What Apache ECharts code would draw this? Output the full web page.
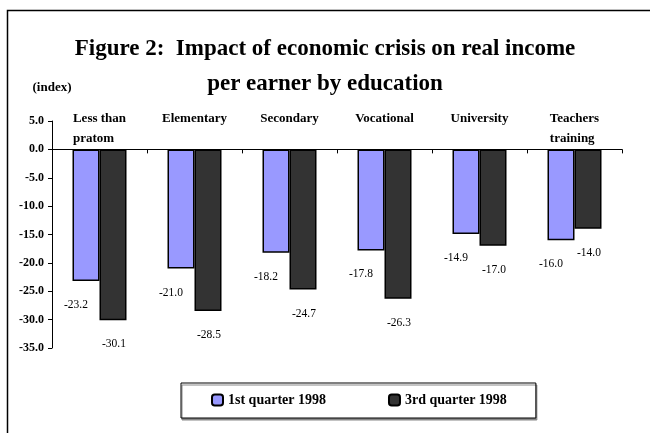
<!DOCTYPE html>
<html>
<head>
<meta charset="utf-8">
<script src="https://cdn.jsdelivr.net/npm/echarts@6/dist/echarts.min.js"></script>
<style>html,body{margin:0;padding:0;background:#fff}#c{width:650px;height:433px}</style>
</head>
<body>
<div id="c"></div>
<script>
const categories = ['Less than\npratom', 'Elementary', 'Secondary', 'Vocational', 'University', 'Teachers\ntraining'];
const seriesNames = ['1st quarter 1998', '3rd quarter 1998'];
const q1Values = [-23.2, -21.0, -18.2, -17.8, -14.9, -16.0];
const q3Values = [-30.1, -28.5, -24.7, -26.3, -17.0, -14.0];
const yTicks = { min: -35, max: 5, interval: 5 };
const titleText = 'Figure 2:  Impact of economic crisis on real income\nper earner by education';
const unitText = '(index)';

const FONT = "'Liberation Serif', 'Times New Roman', serif";
const chart = echarts.init(document.getElementById('c'), null, { renderer: 'canvas' });

const labelStyle = (dx) => ({
  show: true,
  position: 'bottom',
  distance: 18,
  offset: [dx, 0],
  formatter: p => p.value.toFixed(1),
  fontFamily: FONT,
  fontSize: 11.5,
  color: '#000'
});

chart.setOption({
  backgroundColor: '#fff',
  animation: false,
  textStyle: { fontFamily: FONT },
  title: {
    text: titleText,
    left: 'center',
    top: 27,
    textStyle: { fontFamily: FONT, fontWeight: 'bold', fontSize: 23, lineHeight: 35, color: '#000' }
  },
  graphic: [{
    type: 'rect',
    silent: true,
    shape: { x: 7.5, y: 10.5, width: 800, height: 600 },
    style: { fill: 'none', stroke: '#000', lineWidth: 1.5 }
  }],
  legend: {
    data: seriesNames,
    left: 181,
    top: 383,
    padding: [10, 29, 11, 30],
    itemGap: 62,
    itemWidth: 11,
    itemHeight: 11,
    borderColor: '#000',
    borderWidth: 1,
    shadowColor: '#888',
    shadowOffsetX: 1,
    shadowOffsetY: 2,
    shadowBlur: 0,
    backgroundColor: '#fff',
    textStyle: { fontFamily: FONT, fontWeight: 'bold', fontSize: 14, color: '#000' }
  },
  grid: { left: 52, right: 28, top: 121, bottom: 85, containLabel: false },
  xAxis: {
    type: 'category',
    data: categories,
    boundaryGap: true,
    axisLine: { onZero: true, lineStyle: { color: '#000', width: 1 } },
    axisTick: { show: true, length: 4, inside: false, lineStyle: { color: '#000' } },
    axisLabel: {
      inside: true,
      margin: 239,
      verticalAlign: 'top',
      align: 'center',
      interval: 0,
      formatter: v => v.split('\n').map(s => '{l|' + s + '}').join('\n'),
      rich: {
        l: { align: 'left', fontFamily: FONT, fontWeight: 'bold', fontSize: 13, lineHeight: 20, color: '#000' }
      }
    },
    splitLine: { show: false }
  },
  yAxis: {
    type: 'value',
    min: yTicks.min,
    max: yTicks.max,
    interval: yTicks.interval,
    name: unitText,
    nameLocation: 'end',
    nameGap: 27,
    nameTextStyle: { fontFamily: FONT, fontWeight: 'bold', fontSize: 13, color: '#000', align: 'center' },
    axisLine: { show: true, lineStyle: { color: '#000', width: 1 } },
    axisTick: { show: true, length: 4, lineStyle: { color: '#000' } },
    axisLabel: {
      margin: 8,
      formatter: v => v.toFixed(1),
      fontFamily: FONT,
      fontWeight: 'bold',
      fontSize: 12,
      color: '#000'
    },
    splitLine: { show: false }
  },
  series: [
    {
      name: seriesNames[0],
      type: 'bar',
      data: q1Values,
      barWidth: 27,
      barGap: '0%',
      itemStyle: { color: '#9999FF', borderColor: '#000', borderWidth: 1.5 },
      label: labelStyle(-10)
    },
    {
      name: seriesNames[1],
      type: 'bar',
      data: q3Values,
      barWidth: 27,
      barGap: '0%',
      itemStyle: { color: '#333333', borderColor: '#000', borderWidth: 1.5 },
      label: labelStyle(1)
    }
  ]
});
</script>
</body>
</html>
